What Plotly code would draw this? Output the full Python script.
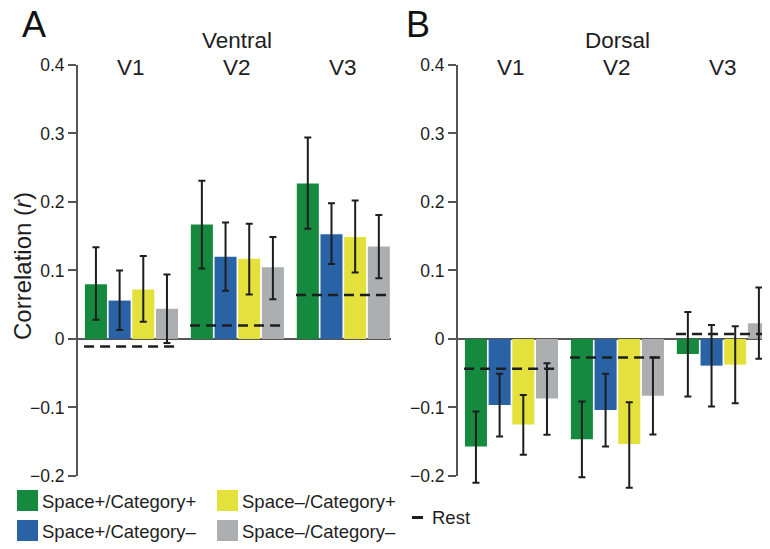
import plotly.graph_objects as go

# ---------------- data ----------------
regions = ["V1", "V2", "V3"]
conditions = ["Space+/Category+", "Space+/Category–", "Space–/Category+", "Space–/Category–"]
colors = ["#15893D", "#2A62A6", "#E4E13C", "#ACAEB0"]

# Ventral (panel A): mean, upper and lower error bound per condition, per region
ventral_mean = [
    [0.080, 0.167, 0.227],
    [0.056, 0.120, 0.153],
    [0.072, 0.117, 0.149],
    [0.044, 0.1045, 0.135],
]
ventral_hi = [
    [0.134, 0.231, 0.294],
    [0.100, 0.170, 0.198],
    [0.121, 0.168, 0.202],
    [0.094, 0.149, 0.181],
]
ventral_lo = [
    [0.028, 0.103, 0.161],
    [0.013, 0.0705, 0.1095],
    [0.025, 0.065, 0.097],
    [-0.006, 0.058, 0.0885],
]
ventral_rest = [-0.011, 0.0195, 0.064]

# Dorsal (panel B)
dorsal_mean = [
    [-0.157, -0.1466, -0.022],
    [-0.0965, -0.1037, -0.039],
    [-0.125, -0.1533, -0.0375],
    [-0.087, -0.083, 0.0228],
]
dorsal_hi = [
    [-0.106, -0.0915, 0.0394],
    [-0.051, -0.051, 0.0204],
    [-0.082, -0.0925, 0.0184],
    [-0.0356, -0.027, 0.075],
]
dorsal_lo = [
    [-0.210, -0.202, -0.084],
    [-0.1426, -0.157, -0.0988],
    [-0.169, -0.2175, -0.094],
    [-0.140, -0.1397, -0.029],
]
dorsal_rest = [-0.0434, -0.027, 0.0073]

tick_vals = [-0.2, -0.1, 0, 0.1, 0.2, 0.3, 0.4]
tick_text = ["−0.2", "−0.1", "0", "0.1", "0.2", "0.3", "0.4"]

# ---------------- style ----------------
OX, OY = 8, 8            # default page body margin of the html page
W, H = 770 - OX, 549 - OY
ML, MR, MT, MB = 0, 0, 65 - OY, 56
PH = H - MT - MB
FONT = "Liberation Sans, Arial, Helvetica, sans-serif"
TXT = "#1e1e1e"
AXC = "#555555"
BARGAP = 0.106
BARGROUPGAP = 0.07


def px_x(p):
    return (p - OX - ML) / (W - ML - MR)


def px_y(p):
    return (H - MB - (p - OY)) / PH


fig = go.Figure()
xpos = list(range(len(regions)))

panels = [
    ("x", "y", ventral_mean, ventral_hi, ventral_lo, ventral_rest),
    ("x2", "y2", dorsal_mean, dorsal_hi, dorsal_lo, dorsal_rest),
]

for xa, ya, means, his, los, rest in panels:
    for k, cond in enumerate(conditions):
        m = means[k]
        fig.add_trace(go.Bar(
            x=xpos, y=m, name=cond, xaxis=xa, yaxis=ya,
            marker=dict(color=colors[k], line=dict(width=0)),
            error_y=dict(type="data", symmetric=False,
                         array=[h - v for h, v in zip(his[k], m)],
                         arrayminus=[v - l for l, v in zip(los[k], m)],
                         color="#1e1e1e", thickness=2, width=3.5),
            showlegend=False, offsetgroup=str(k),
        ))
    half = (1 - BARGAP) / 2
    rx, ry = [], []
    for i, r in enumerate(rest):
        rx += [xpos[i] - half, xpos[i] + half, None]
        ry += [r, r, None]
    fig.add_trace(go.Scatter(
        x=rx, y=ry, mode="lines", xaxis=xa, yaxis=ya, showlegend=False,
        line=dict(color="#1e1e1e", width=2.5, dash="10px,6px"),
        name="Rest",
    ))

xcommon = dict(showgrid=False, zeroline=False, showline=False, showticklabels=False,
               ticks="", automargin=False)
ycommon = dict(range=[-0.225, 0.4], tickvals=tick_vals, ticktext=tick_text,
               ticks="outside", ticklen=8, tickwidth=1.5, tickcolor=AXC,
               showgrid=False, showline=False, zeroline=True, zerolinecolor=AXC,
               zerolinewidth=1.5, automargin=False,
               tickfont=dict(family=FONT, size=17.5, color=TXT))

fig.update_layout(
    width=W, height=H,
    margin=dict(l=ML, r=MR, t=MT, b=MB),
    paper_bgcolor="white", plot_bgcolor="white",
    barmode="group", bargap=BARGAP, bargroupgap=BARGROUPGAP,
    font=dict(family=FONT, color=TXT),
    xaxis=dict(domain=[px_x(77), px_x(391)], range=[-0.514, 2.45], anchor="y", **xcommon),
    yaxis=dict(domain=[0, 1], anchor="x", **ycommon),
    xaxis2=dict(domain=[px_x(457), 1.0], range=[-0.514, 2.44], anchor="y2", **xcommon),
    yaxis2=dict(domain=[0, 1], anchor="x2", **ycommon),
)

shapes = []
# y axis lines from -0.2 to 0.4
for xr, yr in [("x domain", "y"), ("x2 domain", "y2")]:
    shapes.append(dict(type="line", xref=xr, yref=yr, x0=0, x1=0, y0=-0.2, y1=0.4,
                       line=dict(color=AXC, width=2)))

annotations = []
# region labels
for xa in ["x", "x2"]:
    for i, r in enumerate(regions):
        annotations.append(dict(text=r, xref=xa, yref="y", x=xpos[i], y=0.4,
                                yanchor="middle", xanchor="center", yshift=-2,
                                showarrow=False, font=dict(size=22.5, family=FONT, color=TXT)))
annotations.append(dict(text="Ventral", xref="x", yref="paper", x=xpos[1], y=px_y(40),
                        yanchor="middle", showarrow=False,
                        font=dict(size=22.5, family=FONT, color=TXT)))
annotations.append(dict(text="Dorsal", xref="x2", yref="paper", x=xpos[1], y=px_y(40),
                        yanchor="middle", showarrow=False,
                        font=dict(size=22.5, family=FONT, color=TXT)))
# panel letters
for letter, px in [("A", 34), ("B", 418)]:
    annotations.append(dict(text=letter, xref="paper", yref="paper", x=px_x(px), y=px_y(24),
                            xanchor="center", yanchor="middle", showarrow=False,
                            font=dict(size=36, family=FONT, color="#111111")))
# y title
annotations.append(dict(text="Correlation (<i>r</i>)", xref="paper", yref="paper",
                        x=px_x(22), y=px_y(266), textangle=-90, xanchor="center",
                        yanchor="middle", showarrow=False,
                        font=dict(size=24, family=FONT, color=TXT)))

# manual legend
leg_items = [
    (0, 17, 490), (2, 217, 490),
    (1, 17, 520), (3, 217, 520),
]
for k, lx, ly in leg_items:
    shapes.append(dict(type="rect", xref="paper", yref="paper",
                       x0=px_x(lx), x1=px_x(lx + 21), y0=px_y(ly + 21), y1=px_y(ly),
                       fillcolor=colors[k], line=dict(width=0)))
    annotations.append(dict(text=conditions[k], xref="paper", yref="paper",
                            x=px_x(lx + 23), y=px_y(ly + 11), xanchor="left", yanchor="middle",
                            showarrow=False, font=dict(size=18.5, family=FONT, color=TXT)))
shapes.append(dict(type="line", xref="paper", yref="paper", x0=px_x(412), x1=px_x(423),
                   y0=px_y(517.5), y1=px_y(517.5), line=dict(color="#1e1e1e", width=3)))
annotations.append(dict(text="Rest", xref="paper", yref="paper", x=px_x(430), y=px_y(517),
                        xanchor="left", yanchor="middle", showarrow=False,
                        font=dict(size=18.5, family=FONT, color=TXT)))

fig.update_layout(shapes=shapes, annotations=annotations)
fig.write_html("out.html")
